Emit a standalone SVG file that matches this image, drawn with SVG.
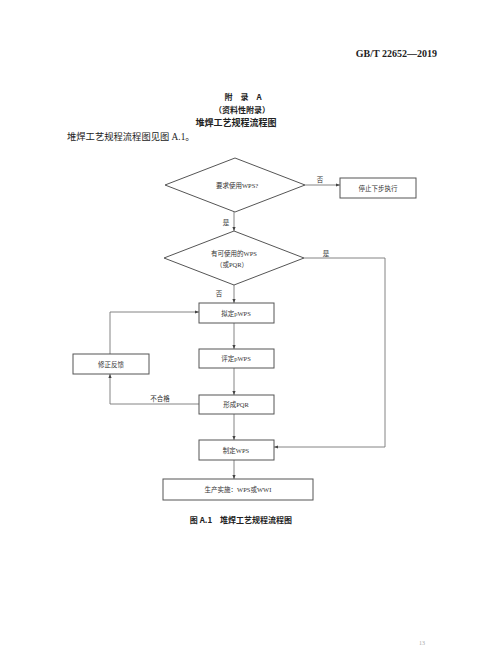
<svg xmlns="http://www.w3.org/2000/svg" width="480" height="647" viewBox="0 0 480 647">
<defs>
<marker id="ah" viewBox="0 0 10 10" refX="10" refY="5" markerWidth="4" markerHeight="4" orient="auto" markerUnits="userSpaceOnUse">
<path d="M0,1 L10,5 L0,9 z" fill="#444"/>
</marker>
<style>
.shape{fill:#fff;stroke:#555;stroke-width:1}
.conn{fill:none;stroke:#777;stroke-width:0.9}
.t{font-family:"Liberation Serif","Noto Sans CJK SC",serif;fill:#333;font-size:6.5px;text-anchor:middle;dominant-baseline:central}
.h{font-family:"Liberation Serif","Noto Sans CJK SC",serif;fill:#222}
</style>
</defs>
<rect width="480" height="647" fill="#fff"/>
<text class="h" x="437" y="57" font-size="10" font-weight="bold" text-anchor="end">GB/T 22652—2019</text>
<text class="h" x="243" y="100" font-size="8" font-weight="bold" text-anchor="middle" style="font-family:'Noto Sans CJK SC',sans-serif">附　录　A</text>
<text class="h" x="242" y="113" font-size="8" font-weight="bold" text-anchor="middle" style="font-family:'Noto Sans CJK SC',sans-serif">（资料性附录）</text>
<text class="h" x="236" y="126" font-size="9" font-weight="bold" text-anchor="middle" style="font-family:'Noto Sans CJK SC',sans-serif">堆焊工艺规程流程图</text>
<text class="h" x="67" y="140" font-size="9.3" style="font-family:'Liberation Serif','Noto Sans CJK SC',serif">堆焊工艺规程流程图见图 A.1。</text>

<g id="connectors">
<path class="conn" d="M305,185 H340" marker-end="url(#ah)"/>
<path class="conn" d="M234,212 V231" marker-end="url(#ah)"/>
<path class="conn" d="M234,285 V303" marker-end="url(#ah)"/>
<path class="conn" d="M304,258 H385 V447 H274" marker-end="url(#ah)"/>
<path class="conn" d="M234,323 V349" marker-end="url(#ah)"/>
<path class="conn" d="M234,368 V395" marker-end="url(#ah)"/>
<path class="conn" d="M234,414 V440" marker-end="url(#ah)"/>
<path class="conn" d="M234,460 V479" marker-end="url(#ah)"/>
<path class="conn" d="M199,404 H110 V374" marker-end="url(#ah)"/>
<path class="conn" d="M110,354 V312 H199" marker-end="url(#ah)"/>
<text class="t" x="320" y="179">否</text>
<text class="t" x="226" y="222">是</text>
<text class="t" x="326" y="253">是</text>
<text class="t" x="219" y="293">否</text>
<text class="t" x="160" y="398">不合格</text>
</g>

<g id="n-require">
<polygon class="shape" points="235,158 305,185 235,212 165,185"/>
<text class="t" x="237" y="185">要求使用WPS?</text>
</g>
<g id="n-stop">
<rect class="shape" x="340" y="178" width="76" height="20"/>
<text class="t" x="378" y="188">停止下步执行</text>
</g>
<g id="n-available">
<polygon class="shape" points="234,231 304,258 234,285 164,258"/>
<text class="t" x="234" y="253">有可使用的WPS</text>
<text class="t" x="232" y="264">（或PQR）</text>
</g>
<g id="n-draft">
<rect class="shape" x="199" y="303" width="75" height="20"/>
<text class="t" x="236" y="313">拟定pWPS</text>
</g>
<g id="n-evaluate">
<rect class="shape" x="199" y="349" width="75" height="19"/>
<text class="t" x="236" y="358.5">评定pWPS</text>
</g>
<g id="n-pqr">
<rect class="shape" x="199" y="395" width="75" height="19"/>
<text class="t" x="236" y="404.5">形成PQR</text>
</g>
<g id="n-wps">
<rect class="shape" x="199" y="440" width="75" height="20"/>
<text class="t" x="236" y="450">制定WPS</text>
</g>
<g id="n-prod">
<rect class="shape" x="163" y="479" width="150" height="21"/>
<text class="t" x="238" y="489.5">生产实施：WPS或WWI</text>
</g>
<g id="n-fix">
<rect class="shape" x="73" y="354" width="76" height="20"/>
<text class="t" x="111" y="364">修正反馈</text>
</g>

<text class="h" x="241" y="523" font-size="8" font-weight="bold" text-anchor="middle" style="font-family:'Noto Sans CJK SC',sans-serif">图 A.1　堆焊工艺规程流程图</text>
<text class="h" x="422" y="645" font-size="6" text-anchor="middle" style="fill:#aaa">13</text>
</svg>
